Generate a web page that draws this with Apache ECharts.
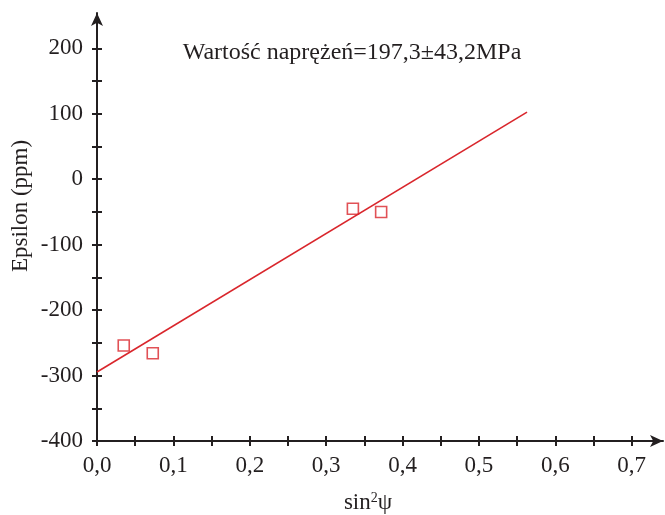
<!DOCTYPE html>
<html>
<head>
<meta charset="utf-8">
<script src="https://cdn.jsdelivr.net/npm/echarts@6/dist/echarts.min.js"></script>
<style>html,body{margin:0;padding:0;background:#fff}#c{width:665px;height:515px}</style>
</head>
<body>
<div id="c"></div>
<script>
// measured points
var pointX = [0.035, 0.073, 0.335, 0.372];
var pointY = [-254, -266, -45, -50];
// fitted line end points
var fitX = [0, 0.563];
var fitY = [-294.5, 102.6];
// tick values
var xTicks = [0, 0.05, 0.1, 0.15, 0.2, 0.25, 0.3, 0.35, 0.4, 0.45, 0.5, 0.55, 0.6, 0.65, 0.7];
var xLabels = [0, 0.1, 0.2, 0.3, 0.4, 0.5, 0.6, 0.7];
var yTicks = [-400, -350, -300, -250, -200, -150, -100, -50, 0, 50, 100, 150, 200];
var yLabels = [-400, -300, -200, -100, 0, 100, 200];
var titleText = 'Wartość naprężeń=197,3±43,2MPa';
var yName = 'Epsilon (ppm)';

var FONT = 'Liberation Serif';
var INK = '#231f20';
var RED = '#d9262c';

var chart = echarts.init(document.getElementById('c'), null, {renderer: 'canvas'});
var pts = pointX.map(function (x, i) { return [x, pointY[i]]; });
var fit = fitX.map(function (x, i) { return [x, fitY[i]]; });

function xAxisBase(inside, main) {
  return {
    type: 'value', min: 0, max: 0.741, position: 'bottom',
    splitLine: {show: false},
    axisLine: main ? {show: true, onZero: false, symbol: ['none', 'arrow'], symbolSize: [9, 13],
      lineStyle: {color: INK, width: 2}} : {show: false, onZero: false},
    axisTick: {show: true, inside: inside, length: 5, customValues: xTicks, lineStyle: {color: INK, width: 2}},
    axisLabel: main ? {show: true, customValues: xLabels, margin: 13, color: INK, fontFamily: FONT, fontSize: 23,
      formatter: function (v) { return v.toFixed(1).replace('.', ','); }} : {show: false}
  };
}
function yAxisBase(inside, main) {
  return {
    type: 'value', min: -400, max: 254, position: 'left',
    splitLine: {show: false},
    axisLine: main ? {show: true, onZero: false, symbol: ['none', 'arrow'], symbolSize: [9, 13],
      lineStyle: {color: INK, width: 2}} : {show: false, onZero: false},
    axisTick: {show: true, inside: inside, length: 5, customValues: yTicks, lineStyle: {color: INK, width: 2}},
    axisLabel: main ? {show: true, customValues: yLabels, margin: 14, color: INK, fontFamily: FONT, fontSize: 23} : {show: false}
  };
}

chart.setOption({
  animation: false,
  backgroundColor: '#fff',
  grid: {left: 97, right: 2, top: 13, bottom: 74, containLabel: false, outerBoundsMode: 'none'},
  xAxis: [xAxisBase(false, true), xAxisBase(true, false)],
  yAxis: [yAxisBase(false, true), yAxisBase(true, false)],
  graphic: [
    {type: 'text', x: 352, y: 53,
      style: {text: titleText, fontFamily: FONT, fontSize: 24, fill: INK, align: 'center', verticalAlign: 'middle'}},
    {type: 'text', x: 21, y: 206, rotation: Math.PI / 2,
      style: {text: yName, fontFamily: FONT, fontSize: 23, fill: INK, align: 'center', verticalAlign: 'middle'}},
    {type: 'text', x: 368, y: 503,
      style: {text: '{a|sin}{s|2}{a|ψ}', align: 'center', verticalAlign: 'middle',
        rich: {a: {fontFamily: FONT, fontSize: 23, fill: INK, color: INK},
               s: {fontFamily: FONT, fontSize: 14, fill: INK, color: INK, verticalAlign: 'top', padding: [0, 0, 10, 0]}}}}
  ],
  series: [
    {type: 'line', data: fit, xAxisIndex: 0, yAxisIndex: 0, showSymbol: false, symbol: 'none',
      lineStyle: {color: RED, width: 1.6}, z: 3},
    {type: 'scatter', data: pts, xAxisIndex: 0, yAxisIndex: 0, symbol: 'rect', symbolSize: 11,
      itemStyle: {color: 'rgba(255,255,255,0)', borderColor: RED, borderWidth: 1.6}, z: 4}
  ]
});
</script>
</body>
</html>
